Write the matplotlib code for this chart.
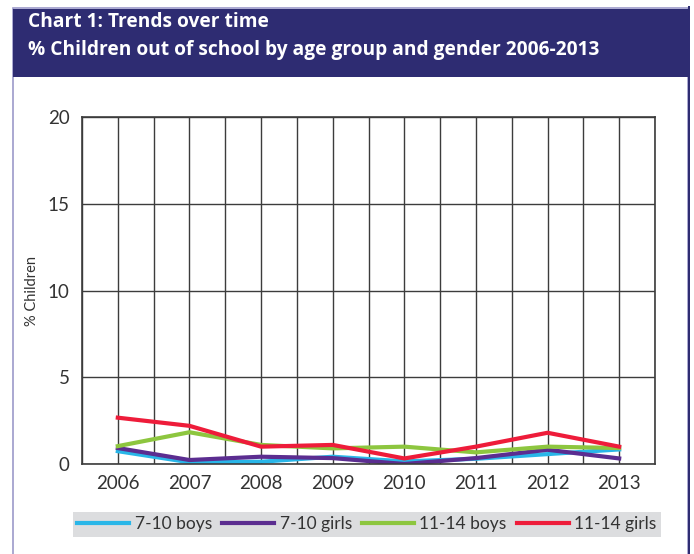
import numpy as np
import matplotlib.pyplot as plt
from matplotlib.patches import Rectangle

# Data
years = ["2006", "2007", "2008", "2009", "2010", "2011", "2012", "2013"]
boys_7_10 = [0.74, 0.10, 0.13, 0.42, 0.15, 0.30, 0.57, 0.84]
girls_7_10 = [0.92, 0.23, 0.42, 0.34, 0.0, 0.34, 0.82, 0.32]
boys_11_14 = [1.03, 1.83, 1.10, 0.90, 1.00, 0.67, 1.00, 0.92]
girls_11_14 = [2.67, 2.20, 1.00, 1.10, 0.32, 1.00, 1.80, 1.00]
y_ticks = [0, 5, 10, 15, 20]

navy = "#2E2C72"
W, H = 694, 554

fig = plt.figure(figsize=(W / 100, H / 100), dpi=100)

# outer box and header band
fig.patches.append(Rectangle((13 / W, -0.01), (688 - 13) / W, (H - 8) / H + 0.01,
                             transform=fig.transFigure, facecolor="white",
                             edgecolor="#9C9AC9", lw=1.2, zorder=0))
fig.patches.append(Rectangle((688 / W, -0.01), 1.5 / W, 1, transform=fig.transFigure,
                             facecolor=navy, edgecolor="none", zorder=1))
fig.patches.append(Rectangle((13 / W, 1 - 77 / H), (688 - 13) / W, (77 - 9) / H,
                             transform=fig.transFigure, facecolor=navy,
                             edgecolor="none", zorder=1))
fig.text(28 / W, 1 - 22 / H, "Chart 1: Trends over time", color="white",
         fontsize=13.8, fontweight="bold", family="Open Sans", va="center", ha="left")
fig.text(28 / W, 1 - 50 / H, "% Children out of school by age group and gender 2006-2013",
         color="white", fontsize=13.8, fontweight="bold", family="Open Sans",
         va="center", ha="left")

ax = fig.add_axes([82 / W, 1 - 464 / H, (655 - 82) / W, (464 - 117) / H], zorder=3)
ax.patch.set_alpha(0)
x = np.arange(len(years))
ax.plot(x, boys_7_10, color="#29B6E8", lw=3, label="7-10 boys")
ax.plot(x, girls_7_10, color="#5B2D90", lw=3, label="7-10 girls")
ax.plot(x, boys_11_14, color="#8DC63F", lw=3, label="11-14 boys")
ax.plot(x, girls_11_14, color="#EE1C3A", lw=3, label="11-14 girls")

ax.set_xlim(-0.5, len(years) - 0.5)
ax.set_ylim(0, 20)
ax.set_xticks(x)
ax.set_xticklabels(years)
ax.set_xticks(np.arange(-0.5, len(years), 1), minor=True)
ax.set_yticks(y_ticks)
ax.grid(True, which="both", axis="x", color="#3c3c3c", lw=1)
ax.grid(True, which="major", axis="y", color="#3c3c3c", lw=1)
ax.set_axisbelow(True)
ax.tick_params(which="both", length=0)
ax.tick_params(axis="x", pad=8)
ax.tick_params(axis="y", pad=9)
for lab in ax.get_xticklabels() + ax.get_yticklabels():
    lab.set_family("Lato")
    lab.set_fontsize(13.5)
    lab.set_color("#333333")
for s in ax.spines.values():
    s.set_color("#3c3c3c")
    s.set_linewidth(1.2)
ax.set_ylabel("% Children", family="Lato", fontsize=10.5,
              color="#333333", labelpad=6)

leg = fig.legend(loc="center", bbox_to_anchor=(367 / W, 1 - 524.5 / H), ncol=4,
                 frameon=True, fancybox=False, handlelength=3.0, handletextpad=0.3,
                 columnspacing=0.6, borderpad=0.25,
                 prop={"family": "Lato", "size": 12.5})
leg.set_zorder(4)
for t in leg.get_texts():
    t.set_color("#333333")
leg.get_frame().set_facecolor("#DCDDDF")
leg.get_frame().set_edgecolor("none")
leg.get_frame().set_alpha(1)

fig.savefig("out.png", dpi=100)
